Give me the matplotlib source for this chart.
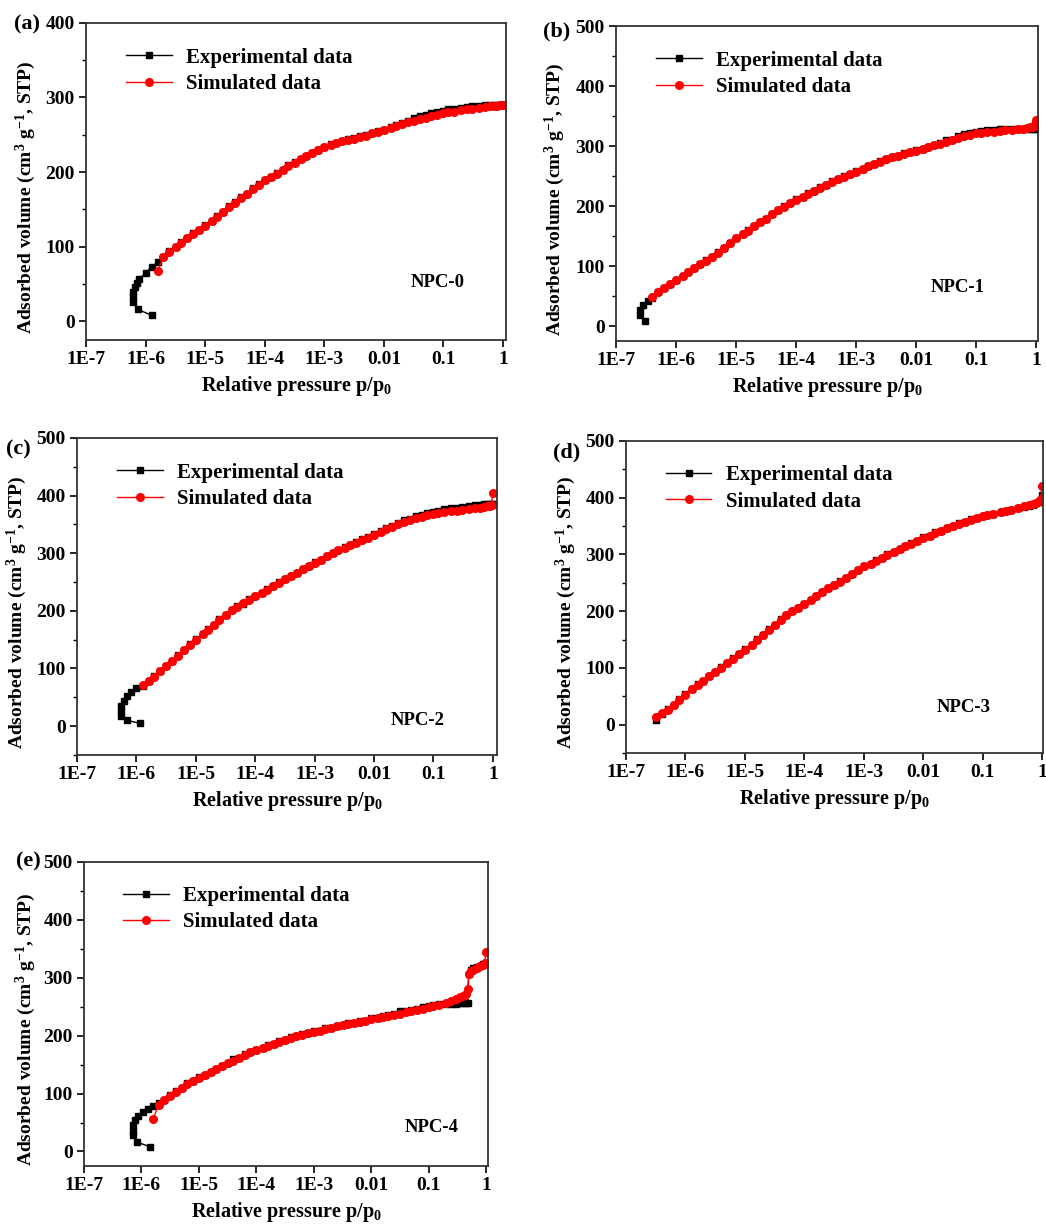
import numpy as np
import matplotlib
matplotlib.use("Agg")
import matplotlib.pyplot as plt
from matplotlib.ticker import FixedLocator, MultipleLocator, LogLocator, NullFormatter

plt.rcParams['font.family'] = ['Liberation Serif', 'DejaVu Serif']
plt.rcParams['font.weight'] = 'bold'
plt.rcParams['mathtext.fontset'] = 'custom'
plt.rcParams['mathtext.rm'] = 'Liberation Serif:bold'
plt.rcParams['mathtext.it'] = 'Liberation Serif:bold:italic'
plt.rcParams['mathtext.bf'] = 'Liberation Serif:bold'
plt.rcParams['mathtext.default'] = 'rm'

# shared relative-pressure grid p/p0 (1E-6.5 .. 0.1)
p_grid = [3.2e-7, 4.0e-7, 5.0e-7, 6.3e-7, 7.9e-7,
          1.0e-6, 1.3e-6, 1.6e-6, 2.0e-6, 2.5e-6, 3.2e-6, 4.0e-6, 5.0e-6, 6.3e-6, 7.9e-6,
          1.0e-5, 1.3e-5, 1.6e-5, 2.0e-5, 2.5e-5, 3.2e-5, 4.0e-5, 5.0e-5, 6.3e-5, 7.9e-5,
          1.0e-4, 1.3e-4, 1.6e-4, 2.0e-4, 2.5e-4, 3.2e-4, 4.0e-4, 5.0e-4, 6.3e-4, 7.9e-4,
          1.0e-3, 1.3e-3, 1.6e-3, 2.0e-3, 2.5e-3, 3.2e-3, 4.0e-3, 5.0e-3, 6.3e-3, 7.9e-3,
          0.010, 0.013, 0.016, 0.020, 0.025, 0.032, 0.040, 0.050, 0.063, 0.079,
          0.10]
p_tail = [0.12, 0.15, 0.2, 0.25, 0.3, 0.4, 0.5, 0.6, 0.7, 0.8, 0.9, 0.95, 0.99]
p_tail_b = [0.12, 0.15, 0.2, 0.25, 0.3, 0.4, 0.5, 0.6, 0.7, 0.8, 0.9, 0.95, 0.97, 0.99]
p_tail_e = [0.12, 0.15, 0.2, 0.25, 0.3, 0.35, 0.4, 0.45, 0.48, 0.5, 0.55, 0.6, 0.7, 0.8, 0.9, 0.95, 0.99]

# (a) NPC-0
hook_p_a = [1.26e-6, 7.4e-7, 6.2e-7, 6.1e-7, 6.2e-7, 6.6e-7, 7.3e-7, 7.9e-7, 1.0e-6, 1.26e-6]
hook_v_a = [8, 16, 26, 33, 39, 46, 51, 57, 65, 73]
exp_a = [79, 86, 94, 100, 106, 111, 118, 122,
         129, 134, 141, 147, 154, 160, 166, 171, 178, 184,
         190, 194, 199, 203, 209, 213, 217, 221, 226, 230,
         234, 237, 239, 242, 244, 246, 248, 250, 253, 255,
         257, 260, 263, 266, 269, 272, 275, 277, 279, 281,
         282,
         284, 285, 286, 287, 288, 289, 289.5, 290, 290, 290, 290, 290, 290]
sim_a = [68, 86, 93, 100, 105, 111, 117, 122,
         128, 134, 140, 147, 153, 159, 165, 171, 177, 183,
         189, 194, 198, 203, 208, 212, 217, 221, 226, 230,
         234, 236, 239, 241, 243, 245, 247, 249, 252, 254,
         256, 259, 262, 264, 267, 269, 271, 273, 275, 277,
         279,
         280, 281, 283, 284, 285, 286, 287, 288, 288.5, 289, 289.5, 290, 290]

# (b) NPC-1
hook_p_b = [3.0e-7, 2.5e-7, 2.5e-7, 2.8e-7, 3.4e-7]
hook_v_b = [8, 18, 27, 35, 41]
exp_b = [47, 56, 64, 70,
         77, 84, 90, 97, 103, 110, 115, 123, 130, 139,
         146, 153, 160, 166, 174, 179, 187, 193, 200, 205,
         211, 215, 221, 225, 231, 235, 241, 245, 250, 253,
         258, 262, 267, 270, 275, 278, 282, 284, 288, 290,
         293, 295, 299, 302, 305, 310, 310, 316, 320, 322,
         324,
         325, 326, 327, 328, 328, 329, 329, 329, 329, 329, 329, 329, 330, 340]
sim_b = [49, 56, 63, 70,
         77, 83, 90, 96, 103, 109, 115, 122, 130, 138,
         146, 153, 159, 166, 173, 179, 186, 193, 199, 205,
         210, 215, 220, 225, 230, 235, 240, 245, 249, 253,
         257, 262, 266, 270, 274, 278, 281, 284, 287, 290,
         292, 295, 298, 301, 304, 307, 310, 313, 316, 318,
         321,
         322, 323, 324, 325, 326, 327, 328, 329, 330, 331, 332, 334, 336, 343]

# (c) NPC-2
hook_p_c = [1.15e-6, 6.9e-7, 5.6e-7, 5.5e-7, 5.6e-7, 6.2e-7, 6.9e-7, 8.1e-7, 1.0e-6]
hook_v_c = [5, 10, 17, 26, 35, 43, 52, 60, 67]
exp_c = [70,
         79, 87, 95, 105, 113, 123, 132, 142,
         151, 159, 168, 176, 185, 193, 201, 208, 212, 220,
         226, 231, 238, 243, 250, 255, 261, 266, 273, 278,
         284, 289, 295, 301, 305, 310, 314, 319, 324, 328,
         334, 339, 344, 348, 353, 357, 360, 364, 367, 370,
         372,
         374, 376, 378, 379, 380, 382, 383, 384, 385, 385, 386, 386, 386]
sim_c = [72,
         79, 86, 95, 104, 113, 122, 132, 141,
         150, 159, 167, 176, 184, 193, 201, 207, 213, 219,
         225, 231, 237, 243, 249, 255, 260, 266, 272, 277,
         283, 289, 295, 300, 305, 309, 314, 318, 323, 327,
         332, 337, 342, 346, 350, 354, 357, 361, 363, 366,
         368,
         369, 371, 373, 374, 375, 377, 378, 379, 380, 381, 382, 384, 405]

# (d) NPC-3
exp_d = [9, 19, 27, 34, 45,
         54, 62, 71, 77, 86, 93, 101, 108, 117, 124,
         133, 141, 151, 158, 168, 176, 186, 193, 201, 206,
         213, 219, 227, 233, 241, 246, 253, 259, 266, 272,
         280, 284, 290, 294, 300, 304, 310, 314, 320, 324,
         330, 333, 339, 342, 347, 350, 355, 357, 362, 364,
         368,
         370, 372, 375, 377, 379, 382, 384, 386, 388, 390, 393, 396, 405]
sim_d = [14, 20, 26, 35, 44,
         53, 63, 70, 77, 85, 93, 100, 108, 116, 124,
         132, 141, 150, 158, 167, 176, 185, 193, 200, 206,
         212, 219, 226, 233, 240, 246, 252, 259, 265, 272,
         279, 284, 289, 294, 299, 304, 309, 314, 319, 324,
         329, 333, 338, 342, 346, 350, 354, 357, 361, 364,
         367,
         369, 372, 375, 377, 379, 382, 385, 387, 389, 391, 394, 398, 420]

# (e) NPC-4
hook_p_e = [1.41e-6, 8.5e-7, 7.2e-7, 7.0e-7, 7.2e-7, 7.6e-7, 8.8e-7, 1.08e-6, 1.3e-6]
hook_v_e = [8, 16, 28, 36, 45, 54, 62, 68, 73]
exp_e = [78, 83, 89, 97, 104, 109, 118, 122,
         128, 132, 138, 142, 148, 152, 160, 162, 168, 171,
         176, 178, 184, 185, 190, 193, 198, 199, 203, 204,
         208, 208, 213, 213, 217, 218, 221, 222, 225, 226,
         231, 231, 234, 235, 238, 243, 242, 244, 246, 250,
         252,
         253, 254, 255, 255, 255, 256, 256, 256, 256, 307, 313, 316, 319, 321, 323, 324, 326]
sim_e = [56, 81, 89, 96, 103, 109, 116, 122,
         127, 132, 137, 142, 147, 152, 157, 162, 166, 171,
         175, 178, 182, 185, 189, 193, 196, 199, 201, 204,
         206, 208, 211, 213, 216, 218, 220, 222, 224, 226,
         228, 230, 232, 234, 236, 238, 240, 242, 244, 246,
         249,
         251, 253, 256, 260, 263, 266, 269, 272, 281, 306, 311, 314, 317, 320, 322, 326, 345]

xticks = [1e-7, 1e-6, 1e-5, 1e-4, 1e-3, 1e-2, 1e-1, 1]
xticklabels = ['1E-7', '1E-6', '1E-5', '1E-4', '1E-3', '0.01', '0.1', '1']

fig = plt.figure(figsize=(10.46, 12.29), dpi=100)


def panel(rect, tag, tag_xy, name, name_xy, ylim, xmax, p, exp_v, sim_v, hook_p=(), hook_v=()):
    ax = fig.add_axes(rect)
    pe = list(hook_p) + list(p)
    ve = list(hook_v) + list(exp_v)
    ax.plot(pe, ve, color='black', marker='s', ms=5, lw=1.0, label='Experimental data')
    ax.plot(p, sim_v, color='red', marker='o', ms=5.5, lw=1.0, label='Simulated data')
    ax.set_xscale('log')
    ax.set_xlim(1e-7, xmax)
    ax.set_ylim(*ylim)
    ax.xaxis.set_major_locator(FixedLocator(xticks))
    ax.set_xticklabels(xticklabels)
    ax.xaxis.set_minor_locator(LogLocator(base=10, subs=np.arange(2, 10)))
    ax.xaxis.set_minor_formatter(NullFormatter())
    ax.yaxis.set_major_locator(MultipleLocator(100))
    ax.yaxis.set_minor_locator(MultipleLocator(50))
    ax.tick_params(which='major', direction='out', length=5, width=1.2, labelsize=14, pad=3,
                   top=False, right=False)
    ax.tick_params(which='minor', direction='out', length=3, width=1.0, top=False, right=False)
    for s in ax.spines.values():
        s.set_linewidth(1.3)
        s.set_color('#333333')
    for lab in ax.get_xticklabels() + ax.get_yticklabels():
        lab.set_fontweight('bold')
    ax.set_xlabel('Relative pressure p/p$_0$', fontsize=14.5, fontweight='bold', labelpad=4)
    ax.set_ylabel('Adsorbed volume (cm$^3$ g$^{-1}$, STP)', fontsize=14, fontweight='bold')
    ax.yaxis.set_label_coords(-0.115, 0.45)
    ax.legend(loc='upper left', bbox_to_anchor=(0.07, 0.955), frameon=False, borderpad=0,
              handlelength=2.2, handletextpad=0.7, labelspacing=0.3,
              prop={'size': 15, 'weight': 'bold'})
    ax.text(name_xy[0], name_xy[1], name, transform=ax.transAxes, ha='center', va='center',
            fontsize=13.5, fontweight='bold')
    fig.text(tag_xy[0], tag_xy[1], tag, ha='left', va='center', fontsize=16, fontweight='bold')
    return ax


panel([0.0822, 0.7234, 0.4015, 0.258], '(a)', (0.013, 0.980), 'NPC-0', (0.838, 0.18),
      (-25, 400), 1.12, p_grid[7:] + p_tail, exp_a, sim_a, hook_p_a, hook_v_a)
panel([0.5889, 0.7225, 0.4034, 0.2563], '(b)', (0.519, 0.974), 'NPC-1', (0.81, 0.17),
      (-25, 500), 1.08, p_grid[1:] + p_tail_b, exp_b, sim_b, hook_p_b, hook_v_b)
panel([0.0736, 0.3857, 0.4015, 0.258], '(c)', (0.006, 0.634), 'NPC-2', (0.81, 0.11),
      (-50, 500), 1.17, p_grid[6:] + p_tail, exp_c, sim_c, hook_p_c, hook_v_c)
panel([0.5985, 0.3873, 0.3987, 0.2539], '(d)', (0.529, 0.632), 'NPC-3', (0.81, 0.147),
      (-50, 500), 1.04, p_grid + p_tail, exp_d, sim_d)
panel([0.0803, 0.0513, 0.3862, 0.2474], '(e)', (0.015, 0.299), 'NPC-4', (0.86, 0.125),
      (-25, 500), 1.08, p_grid[7:] + p_tail_e, exp_e, sim_e, hook_p_e, hook_v_e)

fig.savefig('out.png', dpi=100)
